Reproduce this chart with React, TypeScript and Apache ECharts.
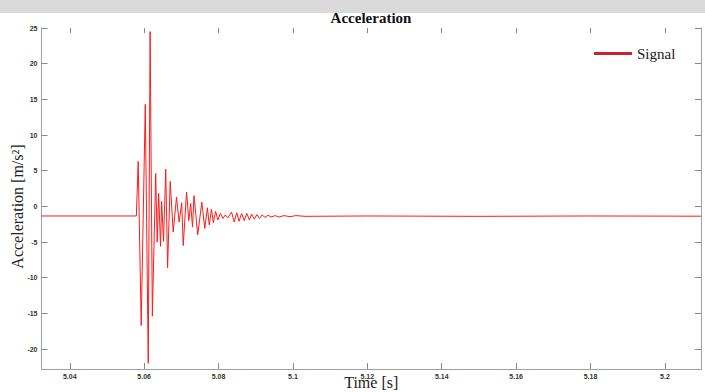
import React, { useEffect, useRef } from "react";
import * as echarts from "echarts";

// time [s]
const times: number[] = [
  5.0324, 5.0579, 5.0584, 5.0592, 5.0603, 5.0611, 5.0616, 5.0622, 5.0631, 5.0635,
  5.0639, 5.0644, 5.0647, 5.0652, 5.0658, 5.0663, 5.067, 5.0678, 5.0687, 5.0694,
  5.0701, 5.0705, 5.0714, 5.072, 5.0725, 5.073, 5.0734, 5.0744, 5.0755, 5.0763,
  5.077, 5.0775, 5.0781, 5.0786, 5.0792, 5.0798, 5.0805, 5.0812, 5.0818, 5.0825,
  5.0835, 5.0842, 5.0849, 5.0855, 5.0862, 5.0869, 5.0876, 5.0883, 5.0889, 5.0896,
  5.0903, 5.091, 5.0917, 5.0925, 5.0933, 5.0941, 5.0952, 5.0962, 5.0976, 5.0992,
  5.1008, 5.1032, 5.12, 5.15, 5.18, 5.2097,
];
// acceleration [m/s^2]
const accel: number[] = [
  -1.35, -1.35, 6.3, -16.7, 14.3, -22.0, 24.5, -15.4, 4.6, -5.0,
  1.8, -5.6, 0.7, -4.9, 5.2, -8.6, 3.5, -3.6, 1.3, -2.2,
  0.5, -5.5, 2.0, -2.0, 0.4, -2.9, 1.5, -4.0, 0.6, -3.1,
  -0.2, -2.6, -0.4, -2.3, -0.7, -1.9, -1.0, -1.7, -1.2, -1.6,
  -0.8, -2.2, -0.9, -2.1, -1.0, -2.0, -1.0, -1.9, -1.1, -1.8,
  -1.15, -1.7, -1.2, -1.55, -1.25, -1.5, -1.3, -1.5, -1.3, -1.45,
  -1.3, -1.4, -1.35, -1.4, -1.35, -1.38,
];
const xTicks: number[] = [5.04, 5.06, 5.08, 5.1, 5.12, 5.14, 5.16, 5.18, 5.2];
const yTicks: number[] = [-20, -15, -10, -5, 0, 5, 10, 15, 20, 25];
const seriesName = "Signal";

export default function App() {
  const ref = useRef<HTMLDivElement>(null);
  useEffect(() => {
    if (!ref.current) return;
    const chart = echarts.init(ref.current, null, { renderer: "svg" });
    const data = times.map((t, i) => [t, accel[i]]);
    const tickLabel = {
      fontFamily: "Liberation Sans",
      fontSize: 7,
      fontWeight: "bold" as const,
      color: "#333",
    };
    chart.setOption({
      animation: false,
      backgroundColor: "#fff",
      graphic: [
        { type: "rect", shape: { x: 0, y: 0, width: 705, height: 13 }, style: { fill: "#dadada" }, z: 10 },
        {
          type: "text",
          x: 371,
          y: 18,
          style: {
            text: "Acceleration",
            font: "bold 15px 'Liberation Serif'",
            fill: "#111",
            align: "center",
            verticalAlign: "middle",
          },
          z: 11,
        },
      ],
      grid: {
        left: 41.5,
        right: 4,
        top: 28,
        bottom: 23,
        containLabel: false,
        outerBoundsMode: "none",
      },
      legend: {
        data: [seriesName],
        left: 594,
        top: 46,
        padding: 0,
        icon: "rect",
        itemWidth: 38,
        itemHeight: 3,
        itemGap: 8,
        itemStyle: { color: "#d0202a" },
        textStyle: { fontFamily: "Liberation Serif", fontSize: 15, color: "#222" },
      },
      xAxis: [
        {
          type: "value",
          min: 5.0324,
          max: 5.2097,
          name: "Time [s]",
          nameLocation: "middle",
          nameGap: 5,
          nameMoveOverlap: false,
          nameTextStyle: {
            fontFamily: "Liberation Serif",
            fontSize: 16,
            color: "#222",
            backgroundColor: "#fff",
            padding: [0, 1, 0, 1],
          },
          axisLine: { show: true, onZero: false, lineStyle: { color: "#a0a0a0", width: 1 } },
          axisTick: { show: true, inside: true, length: 6, customValues: xTicks, lineStyle: { color: "#888" } },
          axisLabel: {
            ...tickLabel,
            margin: 4,
            customValues: xTicks,
            formatter: (v: number) => String(parseFloat(v.toFixed(2))),
          },
          splitLine: { show: false },
        },
        {
          type: "value",
          position: "top",
          min: 5.0324,
          max: 5.2097,
          axisLine: { show: false, onZero: false },
          axisTick: { show: true, inside: true, length: 5, customValues: xTicks, lineStyle: { color: "#888" } },
          axisLabel: { show: false },
          splitLine: { show: false },
        },
      ],
      yAxis: [
        {
          type: "value",
          min: -22.8,
          max: 25,
          name: "Acceleration [m/s²]",
          nameLocation: "middle",
          nameGap: 16,
          nameMoveOverlap: false,
          nameTextStyle: {
            fontFamily: "Liberation Serif",
            fontSize: 16,
            color: "#222",
            padding: [0, 16, 0, 0],
          },
          axisLine: { show: true, onZero: false, lineStyle: { color: "#a0a0a0", width: 1 } },
          axisTick: { show: true, inside: true, length: 6, customValues: yTicks, lineStyle: { color: "#888" } },
          axisLabel: { ...tickLabel, margin: 4, customValues: yTicks },
          splitLine: { show: false },
        },
        {
          type: "value",
          position: "right",
          min: -22.8,
          max: 25,
          axisLine: { show: true, onZero: false, lineStyle: { color: "#a0a0a0", width: 1 } },
          axisTick: { show: true, inside: true, length: 6, customValues: yTicks, lineStyle: { color: "#888" } },
          axisLabel: { show: false },
          splitLine: { show: false },
        },
      ],
      series: [
        {
          name: seriesName,
          type: "line",
          data,
          xAxisIndex: 0,
          yAxisIndex: 0,
          showSymbol: false,
          symbol: "none",
          lineStyle: { color: "#ff1a1a", width: 1 },
          itemStyle: { color: "#d0202a" },
        },
      ],
    });
    return () => chart.dispose();
  }, []);
  return (
    <div
      ref={ref}
      style={{ position: "fixed", left: 0, top: 0, width: 705, height: 392 }}
    />
  );
}
